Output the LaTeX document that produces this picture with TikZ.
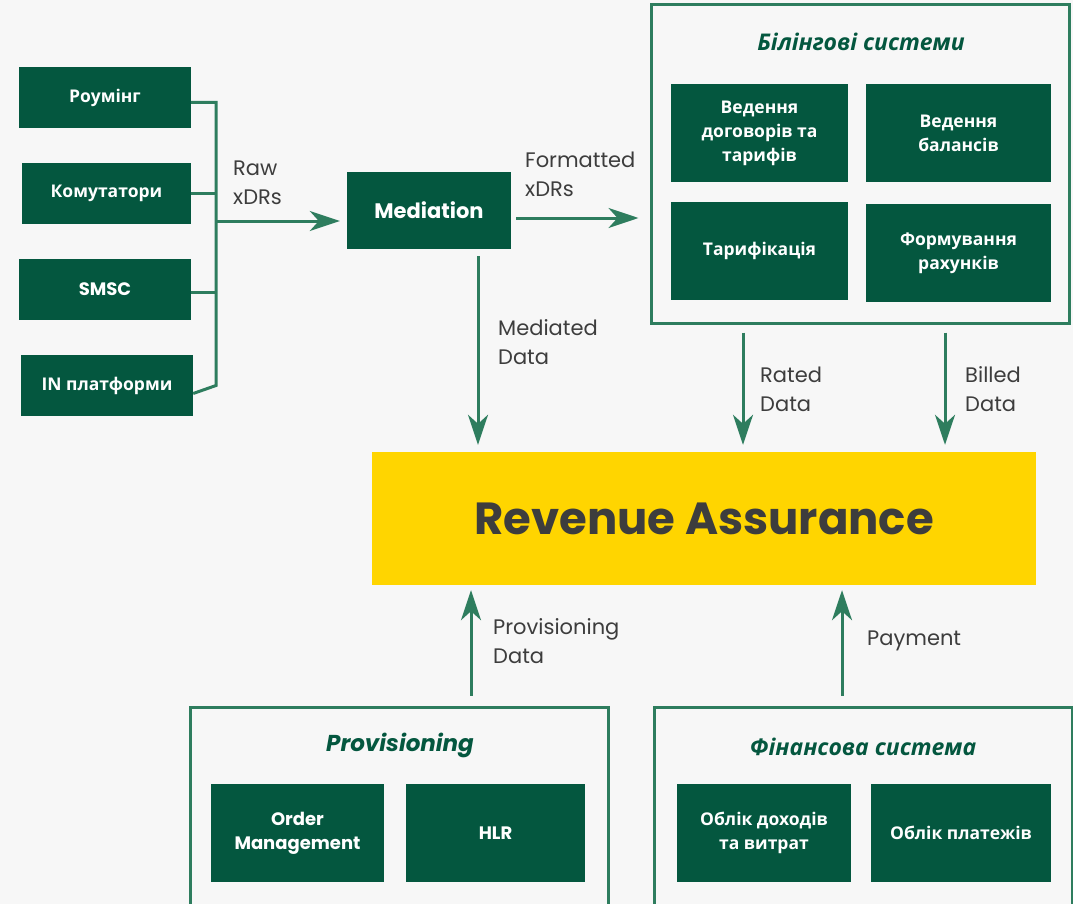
\documentclass[tikz,border=0pt]{standalone}
\usepackage{fontspec}
\setmainfont{Open Sans}
\newfontfamily\popfont{Poppins}
\usetikzlibrary{positioning,arrows.meta}

\definecolor{darkgreen}{HTML}{04573F}
\definecolor{linegreen}{HTML}{2E7D5E}
\definecolor{bggray}{HTML}{F7F7F7}
\definecolor{rayellow}{HTML}{FFD500}
\definecolor{labelgray}{HTML}{3D3D3D}

\tikzset{
  greenbox/.style={fill=darkgreen, text=white, align=center, inner sep=0pt,
    font=\bfseries\fontsize{17.5}{24}\selectfont},
  latinbox/.style={greenbox, font=\popfont\bfseries\fontsize{18}{24}\selectfont},
  systemframe/.style={draw=linegreen, line width=3pt, inner sep=0pt},
  frametitle/.style={text=darkgreen, font=\bfseries\itshape\fontsize{23}{26}\selectfont},
  busline/.style={draw=linegreen, line width=3pt},
  flow/.style={draw=linegreen, line width=3pt,
    -{Stealth[length=30pt,width=20pt,inset=9pt]}},
  flowlabel/.style={text=labelgray, anchor=west, align=left, inner sep=0pt,
    font=\popfont\fontsize{21}{29}\selectfont}
}

\begin{document}
\begin{tikzpicture}[x=1pt, y=-1pt]
  \fill[bggray] (0,0) rectangle (1073,904);
  \useasboundingbox (0,0) rectangle (1073,904);

  % sources
  \node[greenbox, minimum width=172, minimum height=61] (roaming) at (105,97.5) {Роумінг};
  \node[greenbox, minimum width=169, minimum height=61] (switches) at (106.5,193.5) {Комутатори};
  \node[latinbox, minimum width=172, minimum height=61] (smsc) at (105,289.5) {SMSC};
  \node[greenbox, minimum width=172, minimum height=61] (inplat) at (107,385.5) {IN платформи};

  \node[latinbox, minimum width=164, minimum height=77,
    font=\popfont\bfseries\fontsize{21}{24}\selectfont] (mediation) at (429,210.5) {Mediation};

  % billing
  \node[systemframe, minimum width=418, minimum height=318] (billing) at (860,164) {};
  \node[frametitle] (billingtitle) at (861,42) {Білінгові системи};
  \node[greenbox, minimum width=177, minimum height=98] (contracts) at (759.5,133)
    {Ведення\\договорів та\\тарифів};
  \node[greenbox, minimum width=185, minimum height=98] (balances) at (958.5,133)
    {Ведення\\балансів};
  \node[greenbox, minimum width=177, minimum height=98] (rating) at (759.5,251)
    {Тарифікація};
  \node[greenbox, minimum width=185, minimum height=98] (invoicing) at (958.5,253)
    {Формування\\рахунків};

  % revenue assurance
  \node[fill=rayellow, text=labelgray, minimum width=664, minimum height=133,
    font=\popfont\bfseries\fontsize{45}{48}\selectfont] (ra) at (704,518.5)
    {Revenue Assurance};

  % provisioning
  \node[systemframe, minimum width=418, minimum height=220] (provisioning) at (399,817) {};
  \node[frametitle, font=\popfont\bfseries\itshape\fontsize{23}{26}\selectfont]
    (provtitle) at (400,745) {Provisioning};
  \node[latinbox, minimum width=173, minimum height=98] (orders) at (297.5,833)
    {Order\\Management};
  \node[latinbox, minimum width=179, minimum height=98] (hlr) at (495.5,833) {HLR};

  % finance
  \node[systemframe, minimum width=418, minimum height=220] (finance) at (863,817) {};
  \node[frametitle] (fintitle) at (863,747) {Фінансова система};
  \node[greenbox, minimum width=174, minimum height=98] (revenue) at (764,833)
    {Облік доходів\\та витрат};
  \node[greenbox, minimum width=180, minimum height=98] (payments) at (961,833)
    {Облік платежів};

  % raw xDRs bus
  \coordinate (bus) at (216,221);
  \draw[busline] ([yshift=-5pt]roaming.east) -| (bus |- inplat.east) -- ([yshift=-8pt]inplat.east);
  \draw[busline] (switches.east) -- (switches.east -| bus);
  \draw[busline] ([yshift=-3pt]smsc.east) -- ([yshift=-3pt]smsc.east -| bus);
  \draw[flow, shorten >=7pt] (bus) -- (bus -| mediation.west);
  \node[flowlabel] (rawlabel) at (233,182.5) {Raw\\xDRs};

  \draw[flow, shorten <=5pt, shorten >=11pt]
    ([yshift=-7.5pt]mediation.east) -- ([yshift=-7.5pt]mediation.east -| billing.west);
  \node[flowlabel] (formattedlabel) at (525,174.5) {Formatted\\xDRs};

  \draw[flow, shorten <=7pt, shorten >=7pt]
    ([xshift=49pt]mediation.south) -- ([xshift=49pt]mediation.south |- ra.north);
  \node[flowlabel] (mediatedlabel) at (498,342) {Mediated\\Data};

  \draw[flow, shorten <=8pt, shorten >=7pt]
    ([xshift=-117pt]billing.south) -- ([xshift=-117pt]billing.south |- ra.north);
  \node[flowlabel] (ratedlabel) at (760,389.5) {Rated\\Data};

  \draw[flow, shorten <=8pt, shorten >=7pt]
    ([xshift=85pt]billing.south) -- ([xshift=85pt]billing.south |- ra.north);
  \node[flowlabel] (billedlabel) at (965,389.5) {Billed\\Data};

  \draw[flow, shorten <=10pt, shorten >=5pt]
    ([xshift=72pt]provisioning.north) -- ([xshift=72pt]provisioning.north |- ra.south);
  \node[flowlabel] (provlabel) at (493,641.5) {Provisioning\\Data};

  \draw[flow, shorten <=10pt, shorten >=5pt]
    ([xshift=-21pt]finance.north) -- ([xshift=-21pt]finance.north |- ra.south);
  \node[flowlabel] (paymentlabel) at (867,641) {Payment};
\end{tikzpicture}
\end{document}
